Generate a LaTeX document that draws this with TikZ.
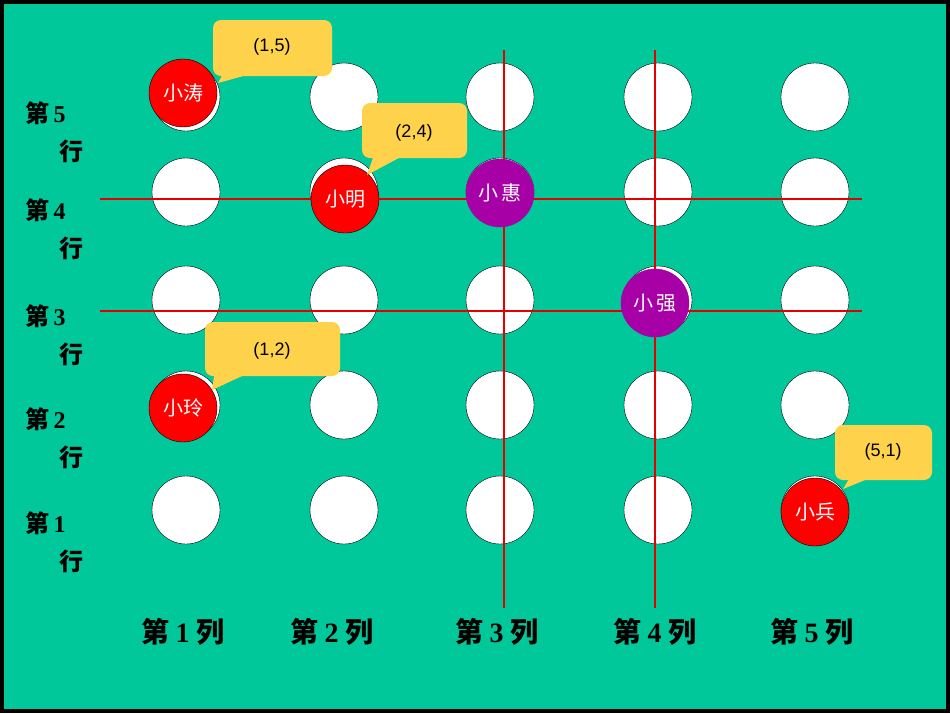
\documentclass[tikz,border=0pt]{standalone}
\usepackage{fontspec}
\setmainfont{Liberation Serif}
\newfontfamily\cjk{Noto Sans CJK SC}
\newfontfamily\lsans{Liberation Sans}
\begin{document}
\begin{tikzpicture}[x=1pt,y=-1pt,
  dot/.style={circle,draw=black,fill=white,minimum size=68pt,inner sep=0pt},
  reddot/.style={dot,fill=red,text=white,font=\cjk\fontsize{20}{20}\selectfont},
  purdot/.style={dot,fill=violet!70!magenta,draw=violet!70!magenta,text=white,font=\cjk\fontsize{20}{20}\selectfont},
  grid/.style={red!90!black,line width=1.5pt},
  call/.style={fill=orange!50!yellow!70,rounded corners=8pt,font=\lsans\fontsize{18}{18}\selectfont},
  lab/.style={font=\bfseries\fontsize{28}{28}\selectfont},
  rlab/.style={font=\bfseries\fontsize{24}{24}\selectfont,align=left}]
\fill[black] (0,0) rectangle (950,713);
\fill[teal!0!green!60!cyan!90!black, fill={rgb,255:red,0;green,200;blue,154}] (4,4) rectangle (946,709);
% white dots
\foreach \c/\x in {1/186,2/344,3/500,4/658,5/815}{
  \foreach \r/\y in {5/97,4/192,3/300,2/405,1/510}{
    \node[dot] (d\c\r) at (\x,\y) {};
  }}
% grid lines
\coordinate (h1a) at (100,199); \coordinate (h1b) at (862,199);
\coordinate (h2a) at (100,311); \coordinate (h2b) at (862,311);
\coordinate (v1a) at (504,50); \coordinate (v1b) at (504,608);
\coordinate (v2a) at (655,50); \coordinate (v2b) at (655,608);
\draw[grid] (h1a)--(h1b); \draw[grid] (h2a)--(h2b);
\draw[grid] (v1a)--(v1b); \draw[grid] (v2a)--(v2b);
% named kids
\node[reddot] (tao) at (183,93) {小涛};
\node[reddot] (ming) at (345,199) {小明};
\node[reddot] (ling) at (183,408) {小玲};
\node[reddot] (bing) at (815,512) {小兵};
\node[purdot] (hui) at (500,193) {小\,惠};
\node[purdot] (qiang) at (655,303) {小\,强};
% callouts
\fill[call] (213,20) rectangle (332,76);
\fill[orange!50!yellow!70] (225,70)--(218,83)--(265,70)--cycle;
\node[font=\lsans\fontsize{18}{18}\selectfont] (c15) at (272,47) {(1,5)};
\fill[call] (362,103) rectangle (467,158);
\fill[orange!50!yellow!70] (375,152)--(367,175)--(410,152)--cycle;
\node[font=\lsans\fontsize{18}{18}\selectfont] (c24) at (414,133) {(2,4)};
\fill[call] (205,322) rectangle (340,376);
\fill[orange!50!yellow!70] (215,370)--(212,390)--(255,370)--cycle;
\node[font=\lsans\fontsize{18}{18}\selectfont] (c12) at (272,351) {(1,2)};
\fill[call] (835,425) rectangle (932,480);
\fill[orange!50!yellow!70] (852,474)--(843,489)--(880,474)--cycle;
\node[font=\lsans\fontsize{18}{18}\selectfont] (c51) at (883,452) {(5,1)};
% row labels
\foreach \r/\y in {5/113,4/210,3/316,2/419,1/523}{
  \node[rlab,anchor=west] (r\r) at (22,\y) {\cjk\bfseries 第\,\rmfamily\bfseries\r};
  \node[rlab] (rr\r) at (71,\y+38) {\cjk\bfseries 行};
}
% column labels
\foreach \c/\x in {1/183,2/332,3/497,4/655,5/812}{
  \node[lab] (col\c) at (\x,632) {\cjk\bfseries 第\ \rmfamily\bfseries\c\ \cjk\bfseries 列};
}
\end{tikzpicture}
\end{document}
